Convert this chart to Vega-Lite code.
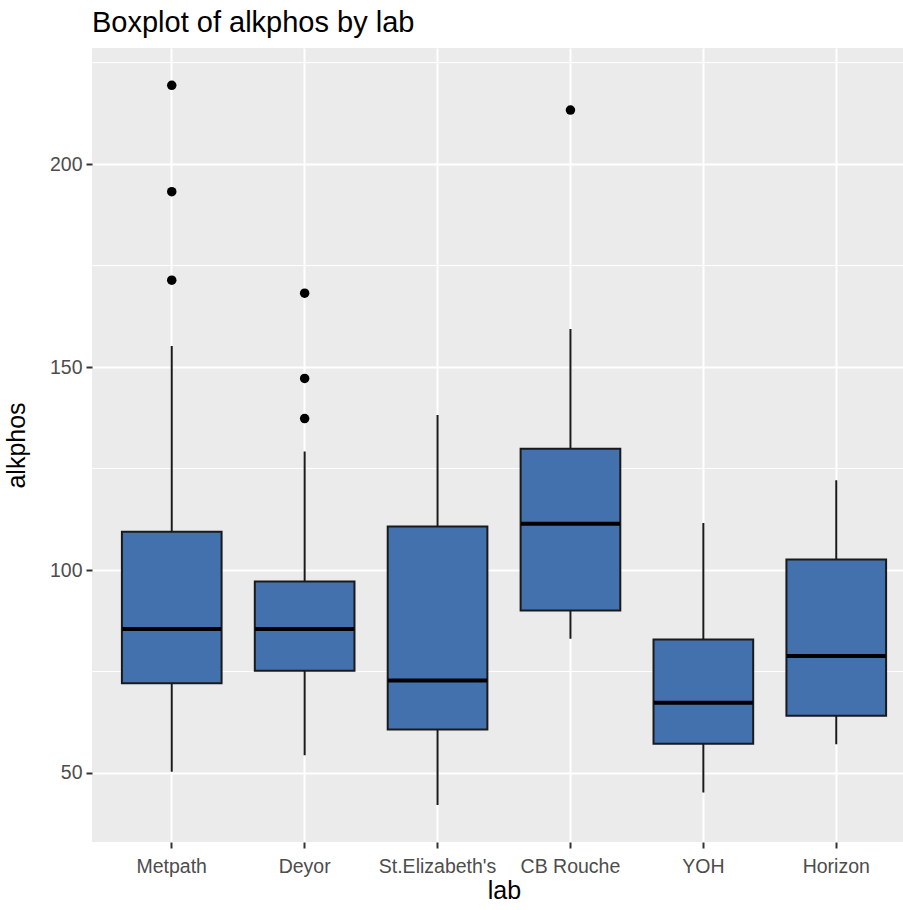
{
  "$schema": "https://vega.github.io/schema/vega-lite/v6.json",
  "autosize": "none",
  "padding": {"left": 92, "top": 48, "right": 0, "bottom": 68},
  "width": 811,
  "height": 794,
  "background": "white",
  "title": {
    "text": "Boxplot of alkphos by lab",
    "anchor": "start",
    "frame": "group",
    "font": "Liberation Sans",
    "fontSize": 29,
    "fontWeight": "normal",
    "color": "black",
    "offset": 10
  },
  "config": {
    "view": {"fill": "#EBEBEB", "stroke": null},
    "font": "Liberation Sans",
    "axis": {
      "domain": false,
      "grid": true,
      "gridColor": "white",
      "gridWidth": 2,
      "tickColor": "#333333",
      "tickWidth": 2,
      "tickSize": 6,
      "labelColor": "#4D4D4D",
      "labelFontSize": 19.5,
      "labelFont": "Liberation Sans",
      "titleFont": "Liberation Sans",
      "titleFontSize": 25,
      "titleFontWeight": "normal",
      "titleColor": "black",
      "labelPadding": 4
    }
  },
  "datasets": {
    "boxes": [
      {"lab": "Metpath", "lower": 50.3, "q1": 72.1, "median": 85.5, "q3": 109.4, "upper": 155.2},
      {"lab": "Deyor", "lower": 54.4, "q1": 75.2, "median": 85.5, "q3": 97.2, "upper": 129.2},
      {"lab": "St.Elizabeth's", "lower": 42.1, "q1": 60.7, "median": 72.8, "q3": 110.7, "upper": 138.2},
      {"lab": "CB Rouche", "lower": 83.1, "q1": 90, "median": 111.4, "q3": 129.9, "upper": 159.4},
      {"lab": "YOH", "lower": 45.2, "q1": 57.2, "median": 67.3, "q3": 82.9, "upper": 111.6},
      {"lab": "Horizon", "lower": 57.1, "q1": 64.1, "median": 78.8, "q3": 102.6, "upper": 122.1}
    ],
    "outliers": [
      {"lab": "Metpath", "alkphos": 219.4},
      {"lab": "Metpath", "alkphos": 193.2},
      {"lab": "Metpath", "alkphos": 171.4},
      {"lab": "Deyor", "alkphos": 168.2},
      {"lab": "Deyor", "alkphos": 147.2},
      {"lab": "Deyor", "alkphos": 137.3},
      {"lab": "CB Rouche", "alkphos": 213.3}
    ],
    "minor": [
      {"v": 75}, {"v": 125}, {"v": 175}, {"v": 225}
    ]
  },
  "layer": [
    {
      "data": {"name": "minor"},
      "mark": {"type": "rule", "color": "white", "strokeWidth": 1},
      "encoding": {
        "y": {"field": "v", "type": "quantitative"}
      }
    },
    {
      "data": {"name": "boxes"},
      "mark": {"type": "rule", "color": "#1a1a1a", "strokeWidth": 2},
      "encoding": {
        "x": {"field": "lab", "type": "nominal"},
        "y": {"field": "lower", "type": "quantitative"},
        "y2": {"field": "upper"}
      }
    },
    {
      "data": {"name": "boxes"},
      "mark": {"type": "bar", "fill": "#4271AE", "stroke": "#1a1a1a", "strokeWidth": 2, "width": {"band": 1}},
      "encoding": {
        "x": {"field": "lab", "type": "nominal"},
        "y": {"field": "q1", "type": "quantitative"},
        "y2": {"field": "q3"}
      }
    },
    {
      "data": {"name": "boxes"},
      "mark": {"type": "tick", "color": "black", "thickness": 4, "size": 99, "opacity": 1},
      "encoding": {
        "x": {"field": "lab", "type": "nominal"},
        "y": {"field": "median", "type": "quantitative"}
      }
    },
    {
      "data": {"name": "outliers"},
      "mark": {"type": "circle", "color": "black", "size": 90, "opacity": 1},
      "encoding": {
        "x": {
          "field": "lab",
          "type": "nominal",
          "sort": ["Metpath", "Deyor", "St.Elizabeth's", "CB Rouche", "YOH", "Horizon"],
          "scale": {"type": "band", "domain": ["Metpath", "Deyor", "St.Elizabeth's", "CB Rouche", "YOH", "Horizon"], "range": [0, 824], "paddingInner": 0.25, "paddingOuter": 0.225},
          "axis": {"title": "lab", "labelAngle": 0, "labelAlign": "center", "labelBaseline": "top", "bandPosition": 0.5, "labelPadding": 9, "titlePadding": 3}
        },
        "y": {
          "field": "alkphos",
          "type": "quantitative",
          "scale": {"domain": [33, 228.6], "nice": false, "zero": false},
          "axis": {"title": "alkphos", "values": [50, 100, 150, 200], "titlePadding": 20}
        }
      }
    }
  ]
}
